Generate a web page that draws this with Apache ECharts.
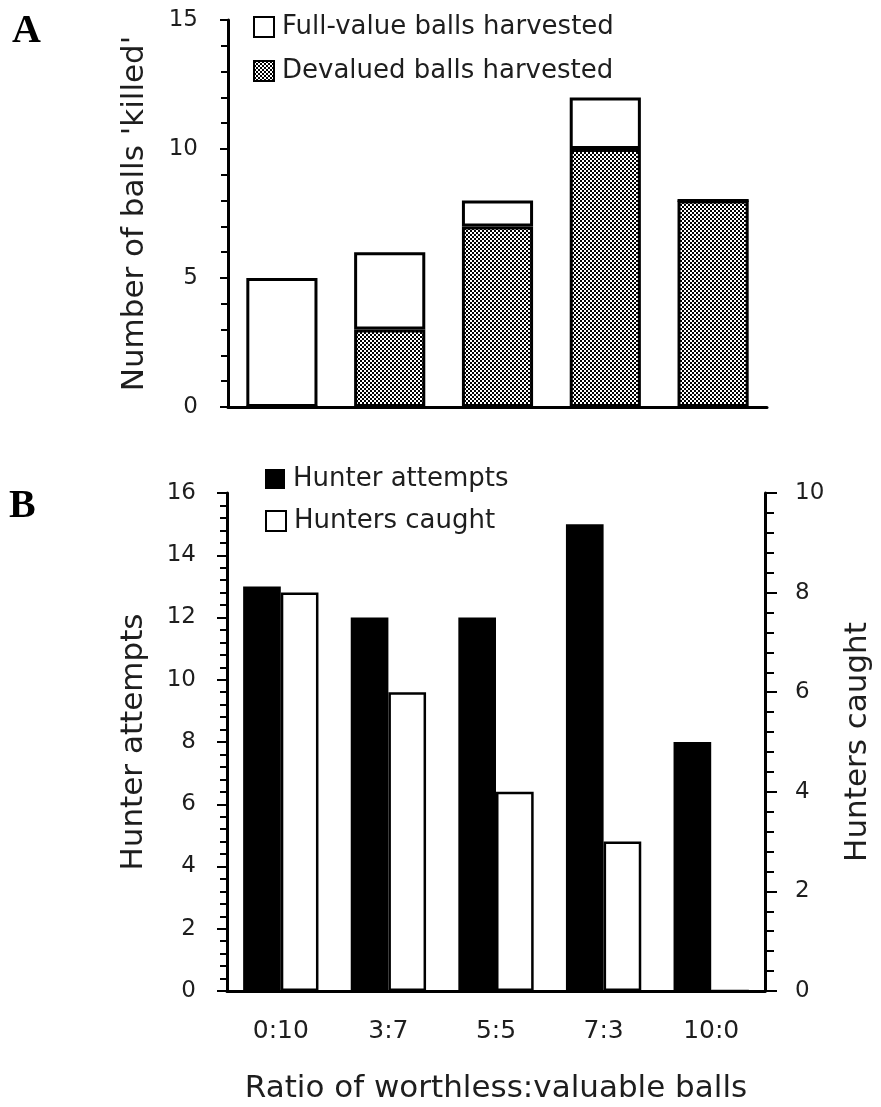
<!DOCTYPE html>
<html>
<head>
<meta charset="utf-8">
<script src="https://cdn.jsdelivr.net/npm/echarts@6/dist/echarts.min.js"></script>
<style>
html,body{margin:0;padding:0;background:#fff;}
#chart{width:881px;height:1107px;}
</style>
</head>
<body>
<div id="chart"></div>
<script>
// ---- Data ----
var categories = ['0:10', '3:7', '5:5', '7:3', '10:0'];
// Panel A (stacked)
var devaluedHarvested = [0, 3, 7, 10, 8];
var fullValueHarvested = [5, 3, 1, 2, 0];
// Panel B
var hunterAttempts = [13, 12, 12, 15, 8];
var huntersCaught = [8, 6, 4, 3, 0];
// Tick settings
var aTicks = {min: 0, max: 15, interval: 5};
var bLeftTicks = {min: 0, max: 16, interval: 2};
var bRightTicks = {min: 0, max: 10, interval: 2};

// checkerboard pattern
var pc = document.createElement('canvas');
pc.width = 4; pc.height = 4;
var pctx = pc.getContext('2d');
pctx.fillStyle = '#fff'; pctx.fillRect(0, 0, 4, 4);
pctx.fillStyle = '#000'; pctx.fillRect(0, 0, 2, 2); pctx.fillRect(2, 2, 2, 2);
var checker = {image: pc, repeat: 'repeat'};

var FONT = 'DejaVu Sans';
var TXT = '#1e1e1e';

function legendItem(name, left, top) {
  return {
    data: [name], left: left, top: top, padding: 0,
    itemWidth: 20, itemHeight: 20, icon: 'rect',
    textStyle: {fontFamily: FONT, fontSize: 26, color: TXT, padding: [0, 0, 0, 3]}
  };
}

var chart = echarts.init(document.getElementById('chart'), null, {renderer: 'canvas'});
chart.setOption({
  animation: false,
  backgroundColor: '#fff',
  graphic: [
    {type: 'text', left: 12, top: 12, style: {text: 'A', font: 'bold 40px "Liberation Serif"', fill: '#000'}},
    {type: 'text', left: 9, top: 487, style: {text: 'B', font: 'bold 40px "Liberation Serif"', fill: '#000'}}
  ],
  legend: [
    legendItem('Full-value balls harvested', 253, 14),
    legendItem('Devalued balls harvested', 253, 58),
    legendItem('Hunter attempts', 265, 466),
    legendItem('Hunters caught', 265, 508)
  ],
  grid: [
    {left: 228, top: 20, width: 539, height: 387, containLabel: false},
    {left: 227, top: 493, width: 541, height: 498, containLabel: false}
  ],
  xAxis: [
    {
      type: 'category', gridIndex: 0, data: categories, boundaryGap: true,
      axisLine: {lineStyle: {color: '#000', width: 3}},
      axisTick: {alignWithLabel: true, length: 5, lineStyle: {color: '#000', width: 2}},
      axisLabel: {show: false}
    },
    {
      type: 'category', gridIndex: 1, data: categories, boundaryGap: true,
      axisLine: {lineStyle: {color: '#000', width: 3}},
      axisTick: {length: 9, lineStyle: {color: '#000', width: 2}},
      axisLabel: {fontFamily: FONT, fontSize: 25, color: TXT, margin: 28},
      name: 'Ratio of worthless:valuable balls', nameLocation: 'middle', nameGap: 82,
      nameTextStyle: {fontFamily: FONT, fontSize: 31, color: TXT}
    }
  ],
  yAxis: [
    {
      type: 'value', gridIndex: 0, min: aTicks.min, max: aTicks.max, interval: aTicks.interval,
      splitLine: {show: false},
      axisLine: {show: true, lineStyle: {color: '#000', width: 3}},
      axisTick: {show: true, length: 8, lineStyle: {color: '#000', width: 2}},
      minorTick: {show: true, splitNumber: 5, length: 7, lineStyle: {color: '#000', width: 2}},
      axisLabel: {fontFamily: FONT, fontSize: 23, color: TXT, margin: 30},
      name: "Number of balls 'killed'", nameLocation: 'middle', nameGap: 78, nameRotate: 90,
      nameTextStyle: {fontFamily: FONT, fontSize: 31, color: TXT}
    },
    {
      type: 'value', gridIndex: 1, position: 'left', min: bLeftTicks.min, max: bLeftTicks.max, interval: bLeftTicks.interval,
      splitLine: {show: false},
      axisLine: {show: true, lineStyle: {color: '#000', width: 3}},
      axisTick: {show: true, length: 10, lineStyle: {color: '#000', width: 2}},
      minorTick: {show: true, splitNumber: 5, length: 7, lineStyle: {color: '#000', width: 2}},
      axisLabel: {fontFamily: FONT, fontSize: 23, color: TXT, margin: 31},
      name: 'Hunter attempts', nameLocation: 'middle', nameGap: 78, nameRotate: 90,
      nameTextStyle: {fontFamily: FONT, fontSize: 31, color: TXT}
    },
    {
      type: 'value', gridIndex: 1, position: 'right', min: bRightTicks.min, max: bRightTicks.max, interval: bRightTicks.interval,
      splitLine: {show: false},
      axisLine: {show: true, lineStyle: {color: '#000', width: 3}},
      axisTick: {show: true, length: 12, lineStyle: {color: '#000', width: 2}},
      minorTick: {show: true, splitNumber: 5, length: 9, lineStyle: {color: '#000', width: 2}},
      axisLabel: {fontFamily: FONT, fontSize: 23, color: TXT, margin: 30},
      name: 'Hunters caught', nameLocation: 'middle', nameGap: 77, nameRotate: 90,
      nameTextStyle: {fontFamily: FONT, fontSize: 31, color: TXT}
    }
  ],
  series: [
    {
      name: 'Devalued balls harvested', type: 'bar', xAxisIndex: 0, yAxisIndex: 0, stack: 'a',
      data: devaluedHarvested, barWidth: '66%',
      itemStyle: {color: checker, borderColor: '#000', borderWidth: 3}
    },
    {
      name: 'Full-value balls harvested', type: 'bar', xAxisIndex: 0, yAxisIndex: 0, stack: 'a',
      data: fullValueHarvested, barWidth: '66%',
      itemStyle: {color: '#fff', borderColor: '#000', borderWidth: 3}
    },
    {
      name: 'Hunter attempts', type: 'bar', xAxisIndex: 1, yAxisIndex: 1,
      data: hunterAttempts, barWidth: '35%', barGap: '0%',
      itemStyle: {color: '#000'}
    },
    {
      name: 'Hunters caught', type: 'bar', xAxisIndex: 1, yAxisIndex: 2,
      data: huntersCaught, barWidth: '35%', barGap: '0%',
      itemStyle: {color: '#fff', borderColor: '#000', borderWidth: 2.5}
    }
  ]
});
</script>
</body>
</html>
